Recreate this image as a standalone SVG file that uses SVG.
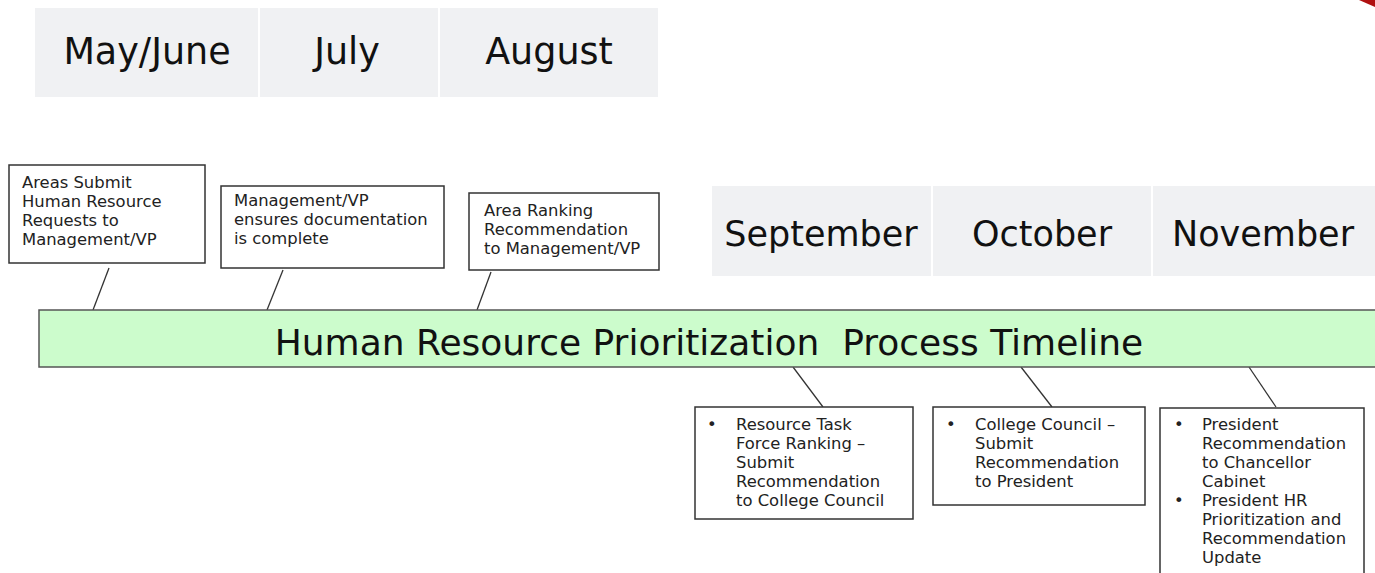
<svg xmlns="http://www.w3.org/2000/svg" width="1375" height="573" viewBox="0 0 1375 573">
<style>
.cell{fill:#f0f1f3;}
.month{font-family:"DejaVu Sans",Verdana,sans-serif;font-size:35px;fill:#111;text-anchor:middle;}
.box{fill:#fff;stroke:#333;stroke-width:1.5;}
.t{font-family:"DejaVu Sans",Verdana,sans-serif;font-size:16.4px;fill:#222;}
.conn line{stroke:#333;stroke-width:1.3;}
.title{font-family:"DejaVu Sans",Verdana,sans-serif;font-size:36px;fill:#111;text-anchor:middle;}
</style>
<rect width="1375" height="573" fill="#fff"/>
<polygon points="1359,0 1375,0 1375,7" fill="#b01010"/>
<g id="months-top">
<rect class="cell" x="35" y="8" width="223" height="89"/>
<rect class="cell" x="260" y="8" width="178" height="89"/>
<rect class="cell" x="440" y="8" width="218" height="89"/>
<text class="month" x="147" y="64" style="font-size:36.5px">May/June</text>
<text class="month" x="347" y="64" style="font-size:36.5px">July</text>
<text class="month" x="549" y="64" style="font-size:36.5px">August</text>
</g>
<g id="months-bottom">
<rect class="cell" x="712" y="186" width="219" height="90"/>
<rect class="cell" x="933" y="186" width="218" height="90"/>
<rect class="cell" x="1153" y="186" width="222" height="90"/>
<text class="month" x="821" y="246">September</text>
<text class="month" x="1042" y="246">October</text>
<text class="month" x="1263" y="246">November</text>
</g>
<g class="conn" id="connectors">
<line x1="109" y1="268" x2="93" y2="310"/>
<line x1="283" y1="270" x2="267" y2="310"/>
<line x1="491" y1="272" x2="477" y2="310"/>
<line x1="793" y1="367" x2="823" y2="407"/>
<line x1="1021" y1="367" x2="1052" y2="407"/>
<line x1="1249" y1="367" x2="1276" y2="407"/>
</g>
<g id="timeline">
<rect x="39" y="310" width="1340" height="57" fill="#ccfccc" stroke="#555" stroke-width="1.5"/>
<text class="title" x="709" y="355">Human Resource Prioritization&#160; Process Timeline</text>
</g>
<g id="box1">
<rect class="box" x="9" y="165" width="196" height="98"/>
<text class="t" x="22" y="188">Areas Submit</text>
<text class="t" x="22" y="207">Human Resource</text>
<text class="t" x="22" y="226">Requests to</text>
<text class="t" x="22" y="245">Management/VP</text>
</g>
<g id="box2">
<rect class="box" x="221" y="186" width="223" height="82"/>
<text class="t" x="234" y="206">Management/VP</text>
<text class="t" x="234" y="225">ensures documentation</text>
<text class="t" x="234" y="244">is complete</text>
</g>
<g id="box3">
<rect class="box" x="469" y="193" width="190" height="77"/>
<text class="t" x="484" y="216">Area Ranking</text>
<text class="t" x="484" y="235">Recommendation</text>
<text class="t" x="484" y="254">to Management/VP</text>
</g>
<g id="box4">
<rect class="box" x="695" y="407" width="218" height="112"/>
<text class="t" x="707" y="430">•</text>
<text class="t" x="736" y="430">Resource Task</text>
<text class="t" x="736" y="449">Force Ranking –</text>
<text class="t" x="736" y="468">Submit</text>
<text class="t" x="736" y="487">Recommendation</text>
<text class="t" x="736" y="506">to College Council</text>
</g>
<g id="box5">
<rect class="box" x="933" y="407" width="212" height="98"/>
<text class="t" x="946" y="430">•</text>
<text class="t" x="975" y="430">College Council –</text>
<text class="t" x="975" y="449">Submit</text>
<text class="t" x="975" y="468">Recommendation</text>
<text class="t" x="975" y="487">to President</text>
</g>
<g id="box6">
<rect class="box" x="1160" y="408" width="204" height="180"/>
<text class="t" x="1174" y="430">•</text>
<text class="t" x="1202" y="430">President</text>
<text class="t" x="1202" y="449">Recommendation</text>
<text class="t" x="1202" y="468">to Chancellor</text>
<text class="t" x="1202" y="487">Cabinet</text>
<text class="t" x="1174" y="506">•</text>
<text class="t" x="1202" y="506">President HR</text>
<text class="t" x="1202" y="525">Prioritization and</text>
<text class="t" x="1202" y="544">Recommendation</text>
<text class="t" x="1202" y="563">Update</text>
</g>
</svg>
